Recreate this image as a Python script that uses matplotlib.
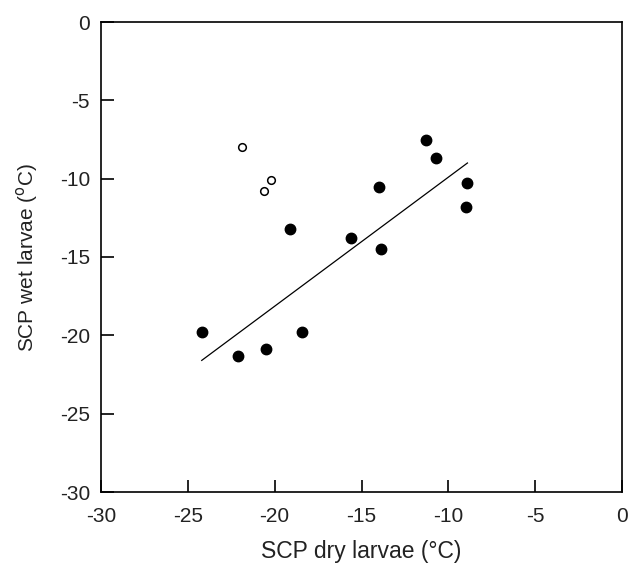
import matplotlib
matplotlib.use("Agg")
import matplotlib.pyplot as plt
import numpy as np

plt.rcParams['font.family'] = ['Liberation Sans', 'DejaVu Sans']
plt.rcParams['axes.unicode_minus'] = False

# open symbols
open_x = [-21.9, -20.6, -20.2]
open_y = [-8.0, -10.8, -10.1]

# filled symbols
dry = [-24.2, -22.1, -20.5, -19.1, -18.4, -15.6, -14.0, -13.9, -11.3, -10.7, -8.9, -9.0]
wet = [-19.8, -21.3, -20.9, -13.2, -19.8, -13.8, -10.5, -14.5, -7.5, -8.7, -10.3, -11.8]

# regression line end points
line_x = [-24.2, -8.9]
line_y = [-21.6, -9.0]

ticks = [-30, -25, -20, -15, -10, -5, 0]

fig = plt.figure(figsize=(6.28, 5.68), dpi=100)
ax = fig.add_axes([101 / 628, 1 - 492 / 568, 521 / 628, 470 / 568])

ax.plot(line_x, line_y, color="black", lw=0.9)
ax.plot(dry, wet, "o", color="black", ms=7.5, zorder=3)
ax.plot(open_x, open_y, "o", mfc="white", mec="black", mew=1.1, ms=5.5, zorder=3)

ax.set_xlim(-30, 0)
ax.set_ylim(-30, 0)
ax.set_xticks(ticks)
ax.set_yticks(ticks)
ax.tick_params(direction="in", length=9, width=1.2, labelsize=15, top=False, right=False,
               labelcolor="#222222")
ax.tick_params(axis="x", pad=11)
ax.tick_params(axis="y", pad=8)
for s in ax.spines.values():
    s.set_linewidth(1.2)

ax.set_xlabel("SCP dry larvae (°C)", fontsize=16.5, labelpad=10, color="#222222")
ax.set_ylabel("SCP wet larvae ($^{\\rm o}$C)", fontsize=15, labelpad=14, color="#222222")

fig.savefig("out.png", dpi=100)
